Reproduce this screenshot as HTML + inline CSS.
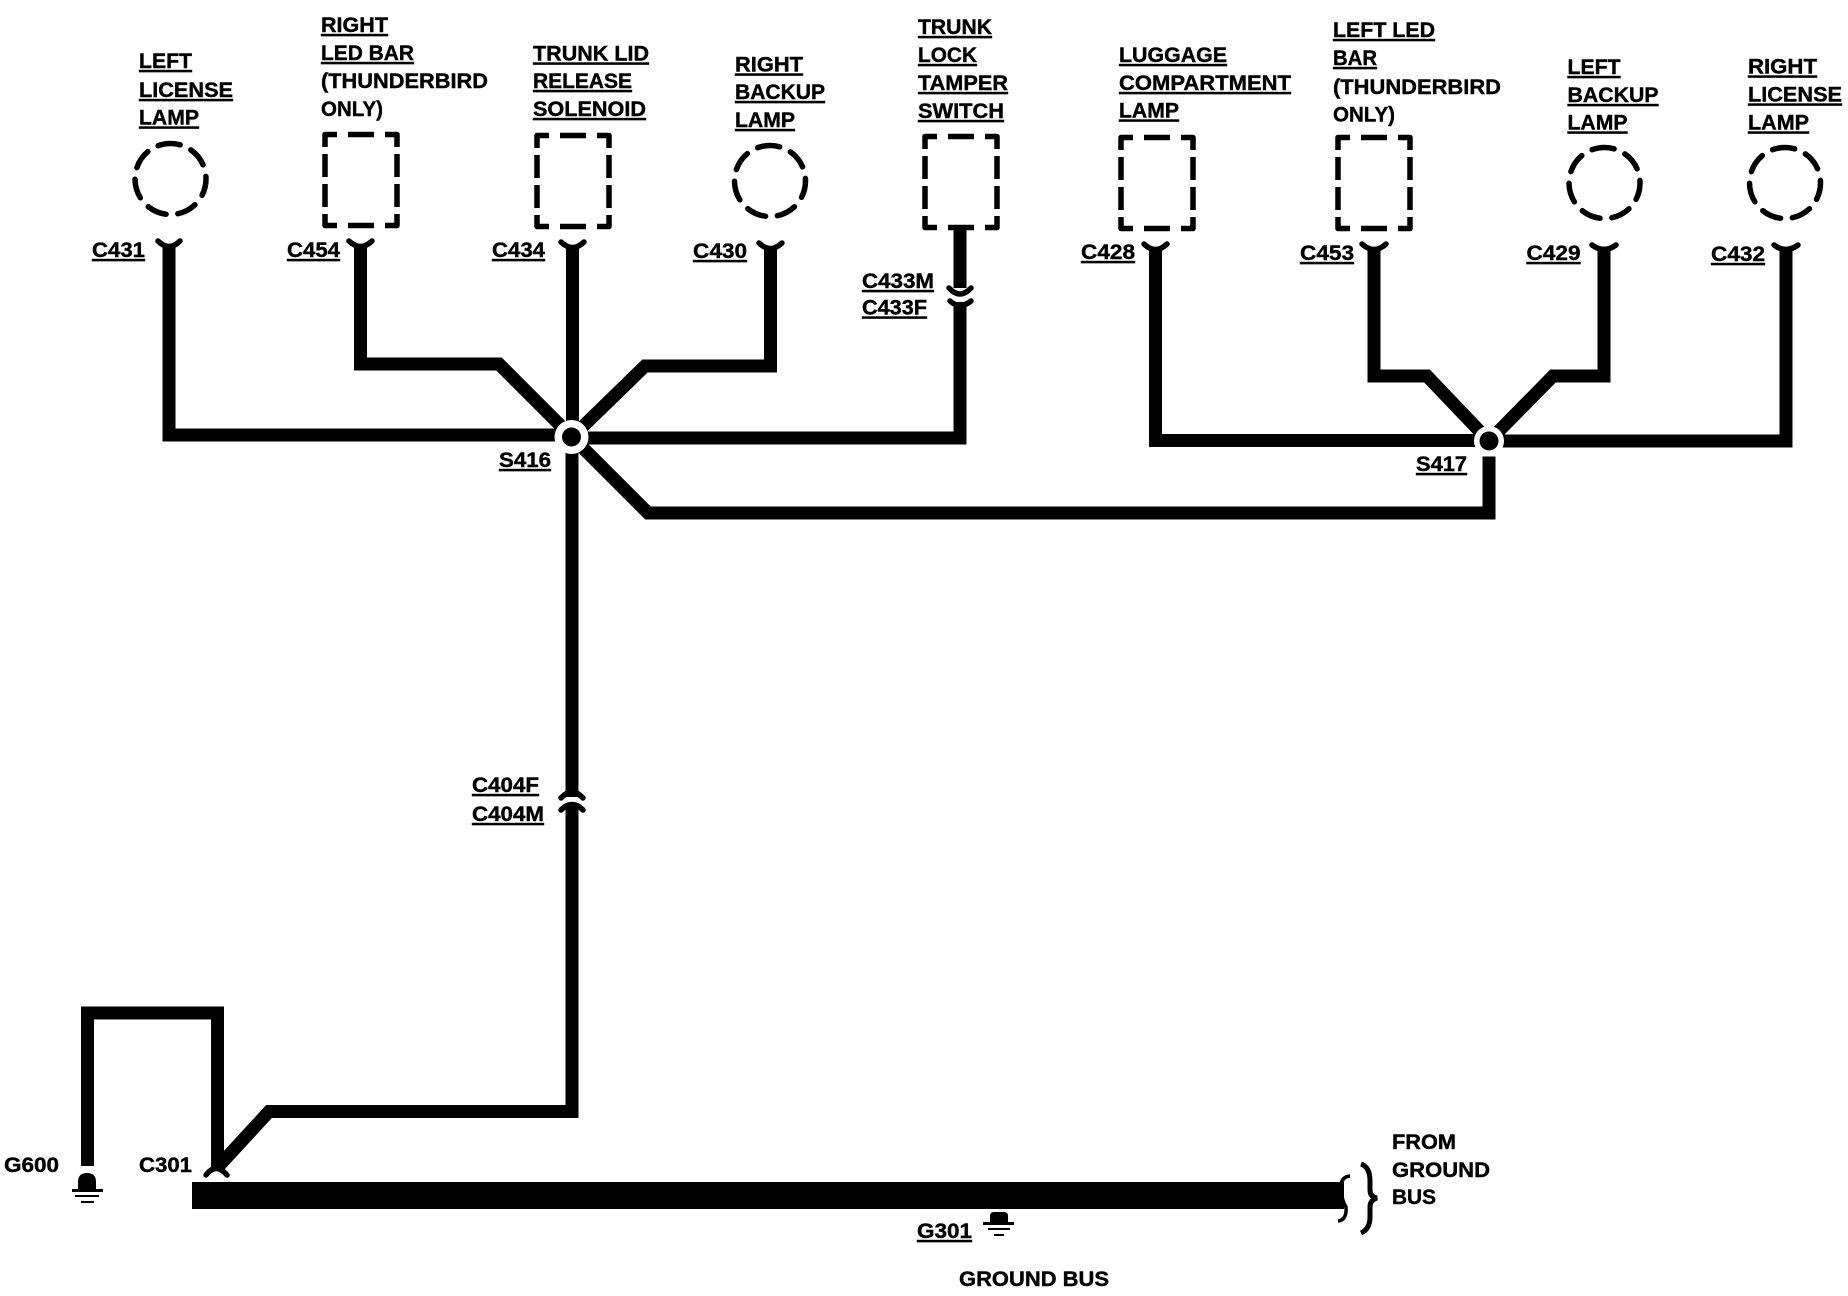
<!DOCTYPE html>
<html>
<head>
<meta charset="utf-8">
<style>
html,body{margin:0;padding:0;background:#fff;}
svg{display:block;}
text{font-family:"Liberation Sans",sans-serif;font-weight:bold;font-size:21px;fill:#000;stroke:#000;stroke-width:.4px;}
.u{text-decoration:underline;}
.w{fill:none;stroke:#000;stroke-width:13;stroke-linejoin:miter;stroke-linecap:butt;}
.c{fill:none;stroke:#000;stroke-width:5.500;stroke-linecap:round;}
.l{fill:none;stroke:#000;stroke-width:5.500;stroke-dasharray:19.500 11.900;stroke-dashoffset:9.750;stroke-linecap:round;}
.r{fill:none;stroke:#000;stroke-width:5.500;stroke-linejoin:round;}
</style>
</head>
<body>
<svg width="1848" height="1296" viewBox="0 0 1848 1296" xmlns="http://www.w3.org/2000/svg">
<rect width="1848" height="1296" fill="#fff"/>

<!-- lamps -->
<circle class="l" cx="170.500" cy="179" r="35.500" transform="rotate(-90 170.500 179)"/>
<circle class="l" cx="770" cy="181" r="35.500" transform="rotate(-90 770 181)"/>
<circle class="l" cx="1604.500" cy="183" r="35.500" transform="rotate(-90 1604.500 183)"/>
<circle class="l" cx="1785" cy="183" r="35.500" transform="rotate(-90 1785 183)"/>

<!-- dashed boxes -->
<path class="r" transform="translate(322 132)" d="M3 15V2.500H15M26 2.500H52M63 2.500H75V15M75 22V45M75 52V75M75 82V93.500H63M52 93.500H26M15 93.500H3V82M3 75V52M3 45V22"/>
<path class="r" transform="translate(534 133)" d="M3 15V2.500H15M26 2.500H52M63 2.500H75V15M75 22V45M75 52V75M75 82V93.500H63M52 93.500H26M15 93.500H3V82M3 75V52M3 45V22"/>
<path class="r" transform="translate(922 134)" d="M3 15V2.500H15M26 2.500H52M63 2.500H75V15M75 22V45M75 52V75M75 82V93.500H63M52 93.500H26M15 93.500H3V82M3 75V52M3 45V22"/>
<path class="r" transform="translate(1118 135)" d="M3 15V2.500H15M26 2.500H52M63 2.500H75V15M75 22V45M75 52V75M75 82V93.500H63M52 93.500H26M15 93.500H3V82M3 75V52M3 45V22"/>
<path class="r" transform="translate(1335 135)" d="M3 15V2.500H15M26 2.500H52M63 2.500H75V15M75 22V45M75 52V75M75 82V93.500H63M52 93.500H26M15 93.500H3V82M3 75V52M3 45V22"/>

<!-- wires S416 -->
<path class="w" d="M169 246V435H572"/>
<path class="w" d="M360.500 246V364H499L572 437"/>
<path class="w" d="M572.500 246V437"/>
<path class="w" d="M770.500 247V366H645L572 437"/>
<path class="w" d="M572 438H960V302"/>
<path class="w" d="M960 228V288"/>
<path class="w" d="M572 437L648 513H1489V441"/>
<path class="w" d="M572 437V797"/>
<path class="w" d="M572 806V1111.500H269L217 1168"/>

<!-- wires S417 -->
<path class="w" d="M1155.500 248V440.500H1489"/>
<path class="w" d="M1374 248V376H1427L1489 441"/>
<path class="w" d="M1604 248V376H1553L1489 441"/>
<path class="w" d="M1786 248V441H1489"/>

<!-- lower loop -->
<path class="w" d="M87.500 1166V1013H217.500V1168"/>

<!-- splice white halos and dots -->
<circle cx="571.500" cy="437" r="17" fill="#fff"/>
<circle cx="571.500" cy="437" r="9.500" fill="#000"/>
<circle cx="1489" cy="441" r="15" fill="#fff"/>
<circle cx="1489" cy="441" r="9.500" fill="#000"/>
<rect x="1470" y="452" width="38" height="4.500" fill="#fff"/>

<!-- connector tips -->
<path class="c" d="M158 241Q169 252 180 241"/>
<path class="c" d="M349 241Q360.500 252 372 241"/>
<path class="c" d="M561 242Q572.500 253 584 242"/>
<path class="c" d="M759 243Q770.500 254 782 243"/>
<path class="c" d="M1144 244Q1155.500 255 1167 244"/>
<path class="c" d="M1362 244Q1374 255 1386 244"/>
<path class="c" d="M1592 245Q1604 254 1616 245"/>
<path class="c" d="M1774 245Q1786 254 1798 245"/>
<path class="c" d="M949 288Q960 300 971 288"/>
<path class="c" d="M950 301Q960 310 971 301"/>
<path class="c" d="M561 798Q572 786 583 798"/>
<path class="c" d="M561 810Q572 799 583 810"/>
<path class="c" d="M206 1175Q216 1162 227 1175"/>

<!-- bus -->
<rect x="192" y="1182" width="1152" height="27" fill="#000"/>
<path d="M1350 1176Q1340 1177 1341 1189Q1342 1201 1346 1207Q1347 1220 1338 1221" fill="none" stroke="#000" stroke-width="3.500"/>
<path d="M1361 1164Q1370 1167 1370 1181V1190Q1370 1197 1377 1198Q1370 1200 1370 1207V1217Q1370 1229 1361 1233" fill="none" stroke="#000" stroke-width="5"/>

<!-- grounds -->
<path d="M78 1190V1182Q78 1173 87 1173Q96 1173 96 1182V1190Z" fill="#000"/>
<rect x="72" y="1189" width="31" height="3" fill="#000"/>
<rect x="75" y="1195" width="24" height="2" fill="#000"/>
<rect x="81" y="1201" width="13" height="2" fill="#000"/>
<path d="M990 1222V1216Q990 1212 994 1212H1004Q1008 1212 1008 1216V1222Z" fill="#000"/>
<rect x="983" y="1222" width="31" height="3" fill="#000"/>
<rect x="988" y="1228" width="22" height="2" fill="#000"/>
<rect x="994" y="1234" width="10" height="2" fill="#000"/>

<!-- labels -->
<text class="u" x="139" y="68" textLength="53" lengthAdjust="spacingAndGlyphs">LEFT</text>
<text class="u" x="139" y="97" textLength="94" lengthAdjust="spacingAndGlyphs">LICENSE</text>
<text class="u" x="139" y="124.500" textLength="60" lengthAdjust="spacingAndGlyphs">LAMP</text>

<text class="u" x="321" y="32" textLength="67" lengthAdjust="spacingAndGlyphs">RIGHT</text>
<text class="u" x="321" y="60" textLength="93" lengthAdjust="spacingAndGlyphs">LED BAR</text>
<text x="321" y="88" textLength="167" lengthAdjust="spacingAndGlyphs">(THUNDERBIRD</text>
<text x="321" y="116" textLength="62" lengthAdjust="spacingAndGlyphs">ONLY)</text>

<text class="u" x="533" y="60.500" textLength="116" lengthAdjust="spacingAndGlyphs">TRUNK LID</text>
<text class="u" x="533" y="88" textLength="99" lengthAdjust="spacingAndGlyphs">RELEASE</text>
<text class="u" x="533" y="116" textLength="113" lengthAdjust="spacingAndGlyphs">SOLENOID</text>

<text class="u" x="735" y="71.500" textLength="68" lengthAdjust="spacingAndGlyphs">RIGHT</text>
<text class="u" x="735" y="99" textLength="90" lengthAdjust="spacingAndGlyphs">BACKUP</text>
<text class="u" x="735" y="127" textLength="60" lengthAdjust="spacingAndGlyphs">LAMP</text>

<text class="u" x="918" y="34" textLength="74" lengthAdjust="spacingAndGlyphs">TRUNK</text>
<text class="u" x="918" y="62" textLength="59" lengthAdjust="spacingAndGlyphs">LOCK</text>
<text class="u" x="918" y="90" textLength="90" lengthAdjust="spacingAndGlyphs">TAMPER</text>
<text class="u" x="918" y="118" textLength="86" lengthAdjust="spacingAndGlyphs">SWITCH</text>

<text class="u" x="1119" y="62" textLength="108" lengthAdjust="spacingAndGlyphs">LUGGAGE</text>
<text class="u" x="1119" y="90" textLength="172" lengthAdjust="spacingAndGlyphs">COMPARTMENT</text>
<text class="u" x="1119" y="117.500" textLength="60" lengthAdjust="spacingAndGlyphs">LAMP</text>

<text class="u" x="1333" y="37" textLength="102" lengthAdjust="spacingAndGlyphs">LEFT LED</text>
<text class="u" x="1333" y="65" textLength="44" lengthAdjust="spacingAndGlyphs">BAR</text>
<text x="1333" y="94" textLength="168" lengthAdjust="spacingAndGlyphs">(THUNDERBIRD</text>
<text x="1333" y="121.500" textLength="62" lengthAdjust="spacingAndGlyphs">ONLY)</text>

<text class="u" x="1567.500" y="74" textLength="53" lengthAdjust="spacingAndGlyphs">LEFT</text>
<text class="u" x="1567.500" y="102" textLength="91" lengthAdjust="spacingAndGlyphs">BACKUP</text>
<text class="u" x="1567.500" y="129.500" textLength="60" lengthAdjust="spacingAndGlyphs">LAMP</text>

<text class="u" x="1748" y="73.500" textLength="69" lengthAdjust="spacingAndGlyphs">RIGHT</text>
<text class="u" x="1748" y="101.500" textLength="94" lengthAdjust="spacingAndGlyphs">LICENSE</text>
<text class="u" x="1748" y="129.500" textLength="61" lengthAdjust="spacingAndGlyphs">LAMP</text>

<text class="u" x="92" y="257" textLength="53" lengthAdjust="spacingAndGlyphs">C431</text>
<text class="u" x="287" y="257" textLength="53" lengthAdjust="spacingAndGlyphs">C454</text>
<text class="u" x="492" y="257" textLength="53" lengthAdjust="spacingAndGlyphs">C434</text>
<text class="u" x="693" y="258" textLength="54" lengthAdjust="spacingAndGlyphs">C430</text>
<text class="u" x="862" y="288" textLength="72" lengthAdjust="spacingAndGlyphs">C433M</text>
<text class="u" x="862" y="314.500" textLength="65" lengthAdjust="spacingAndGlyphs">C433F</text>
<text class="u" x="1081" y="259" textLength="54" lengthAdjust="spacingAndGlyphs">C428</text>
<text class="u" x="1300" y="260" textLength="54" lengthAdjust="spacingAndGlyphs">C453</text>
<text class="u" x="1526.500" y="260" textLength="54" lengthAdjust="spacingAndGlyphs">C429</text>
<text class="u" x="1711" y="261" textLength="54" lengthAdjust="spacingAndGlyphs">C432</text>
<text class="u" x="499" y="467" textLength="52" lengthAdjust="spacingAndGlyphs">S416</text>
<text class="u" x="1416" y="471" textLength="51" lengthAdjust="spacingAndGlyphs">S417</text>
<text class="u" x="472" y="792" textLength="67" lengthAdjust="spacingAndGlyphs">C404F</text>
<text class="u" x="472" y="821" textLength="72" lengthAdjust="spacingAndGlyphs">C404M</text>
<text x="4" y="1172" textLength="55" lengthAdjust="spacingAndGlyphs">G600</text>
<text x="139" y="1172" textLength="53" lengthAdjust="spacingAndGlyphs">C301</text>
<text class="u" x="917" y="1238" textLength="55" lengthAdjust="spacingAndGlyphs">G301</text>
<text x="959" y="1286" textLength="150" lengthAdjust="spacingAndGlyphs">GROUND BUS</text>
<text x="1392" y="1149" textLength="64" lengthAdjust="spacingAndGlyphs">FROM</text>
<text x="1392" y="1177" textLength="98" lengthAdjust="spacingAndGlyphs">GROUND</text>
<text x="1392" y="1204" textLength="44" lengthAdjust="spacingAndGlyphs">BUS</text>
</svg>
</body>
</html>
